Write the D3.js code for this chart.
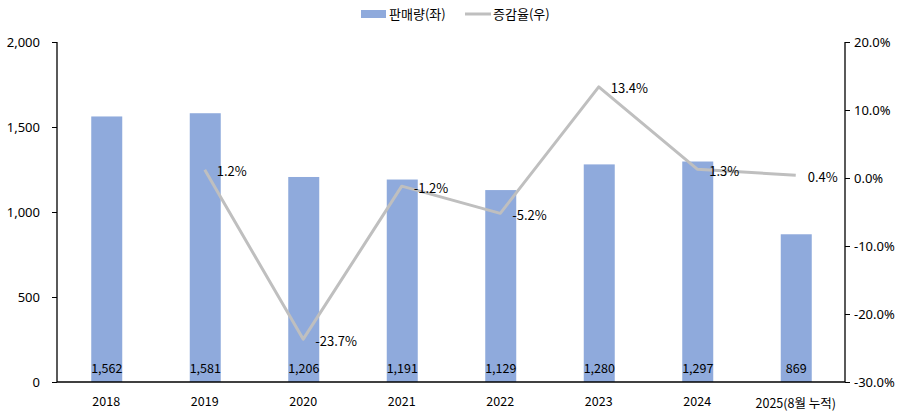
<!DOCTYPE html>
<html><head><meta charset="utf-8">
<script src="https://cdn.jsdelivr.net/npm/d3@7"></script>
<style>
body{margin:0;background:#fff;}
text{font-family:"Noto Sans CJK KR","Noto Sans",sans-serif;fill:#000;}
</style></head><body>
<svg id="c" width="911" height="414"></svg>
<script>
const categories=["2018","2019","2020","2021","2022","2023","2024","2025(8월 누적)"];
const sales=[1562,1581,1206,1191,1129,1280,1297,869];
const growth=[null,1.2,-23.7,-1.2,-5.2,13.4,1.3,0.4];
const leftTicks=[0,500,1000,1500,2000];
const rightTicks=[-30,-20,-10,0,10,20];

const svg=d3.select("#c");
const L=57,R=845,T=42,B=382;
const x=d3.scaleBand().domain(categories).range([L,R]);
const yL=d3.scaleLinear().domain([0,2000]).range([B,T]);
const yR=d3.scaleLinear().domain([-30,20]).range([B,T]);
const bw=31;

svg.selectAll("rect.bar").data(sales).enter().append("rect")
 .attr("x",(d,i)=>x(categories[i])+x.bandwidth()/2-bw/2+0.5)
 .attr("y",d=>yL(d)).attr("width",bw).attr("height",d=>B-yL(d))
 .attr("fill","#8faadc");

svg.selectAll("text.bl").data(sales).enter().append("text")
 .attr("x",(d,i)=>x(categories[i])+x.bandwidth()/2+0.5)
 .attr("y",369).attr("dy","0.35em").attr("text-anchor","middle")
 .style("font-size","12.5px").text(d=>d3.format(",")(d));

// axes
const gl=svg.append("g").attr("transform",`translate(${L},0)`)
 .call(d3.axisLeft(yL).tickValues(leftTicks).tickFormat(d3.format(",")).tickSize(5).tickPadding(12));
const gr=svg.append("g").attr("transform",`translate(${R},0)`)
 .call(d3.axisRight(yR).tickValues(rightTicks).tickFormat(d=>d.toFixed(1)+"%").tickSize(5).tickPadding(4));
[gl,gr].forEach(g=>{g.select(".domain").attr("stroke","#000").attr("stroke-width",1.3).attr("d",`M0,${T}V${B}`);
 g.selectAll(".tick line").attr("stroke","#000");
 g.selectAll(".tick text").style("font-size","13px").style("font-family","'Noto Sans','DejaVu Sans',sans-serif").attr("fill","#000");});
svg.append("line").attr("x1",L).attr("x2",R).attr("y1",B).attr("y2",B).attr("stroke","#000").attr("stroke-width",1.3);

svg.selectAll("text.xl").data(categories).enter().append("text")
 .attr("x",d=>x(d)+x.bandwidth()/2).attr("y",(d,i)=>i===7?404:402).attr("dy","0.35em")
 .attr("text-anchor","middle").style("font-size","12.5px").text(d=>d);

// line
const pts=growth.map((v,i)=>({v,c:categories[i]})).filter(d=>d.v!==null);
const line=d3.line().x(d=>x(d.c)+x.bandwidth()/2).y(d=>yR(d.v));
svg.append("path").datum(pts).attr("d",line).attr("fill","none")
 .attr("stroke","#bfbfbf").attr("stroke-width",3).attr("stroke-linejoin","round");
svg.selectAll("text.gl").data(pts).enter().append("text")
 .attr("x",d=>x(d.c)+x.bandwidth()/2+12).attr("y",d=>yR(d.v)+2).attr("dy","0.35em")
 .style("font-size","13px").text(d=>d.v.toFixed(1)+"%");

// legend
svg.append("rect").attr("x",361).attr("y",10).attr("width",25).attr("height",8).attr("fill","#8faadc");
svg.append("text").attr("x",389).attr("y",14).attr("dy","0.35em").style("font-size","13px").text("판매량(좌)");
svg.append("line").attr("x1",465).attr("x2",491).attr("y1",14).attr("y2",14).attr("stroke","#bfbfbf").attr("stroke-width",3);
svg.append("text").attr("x",493).attr("y",14).attr("dy","0.35em").style("font-size","13px").text("증감율(우)");
</script></body></html>
